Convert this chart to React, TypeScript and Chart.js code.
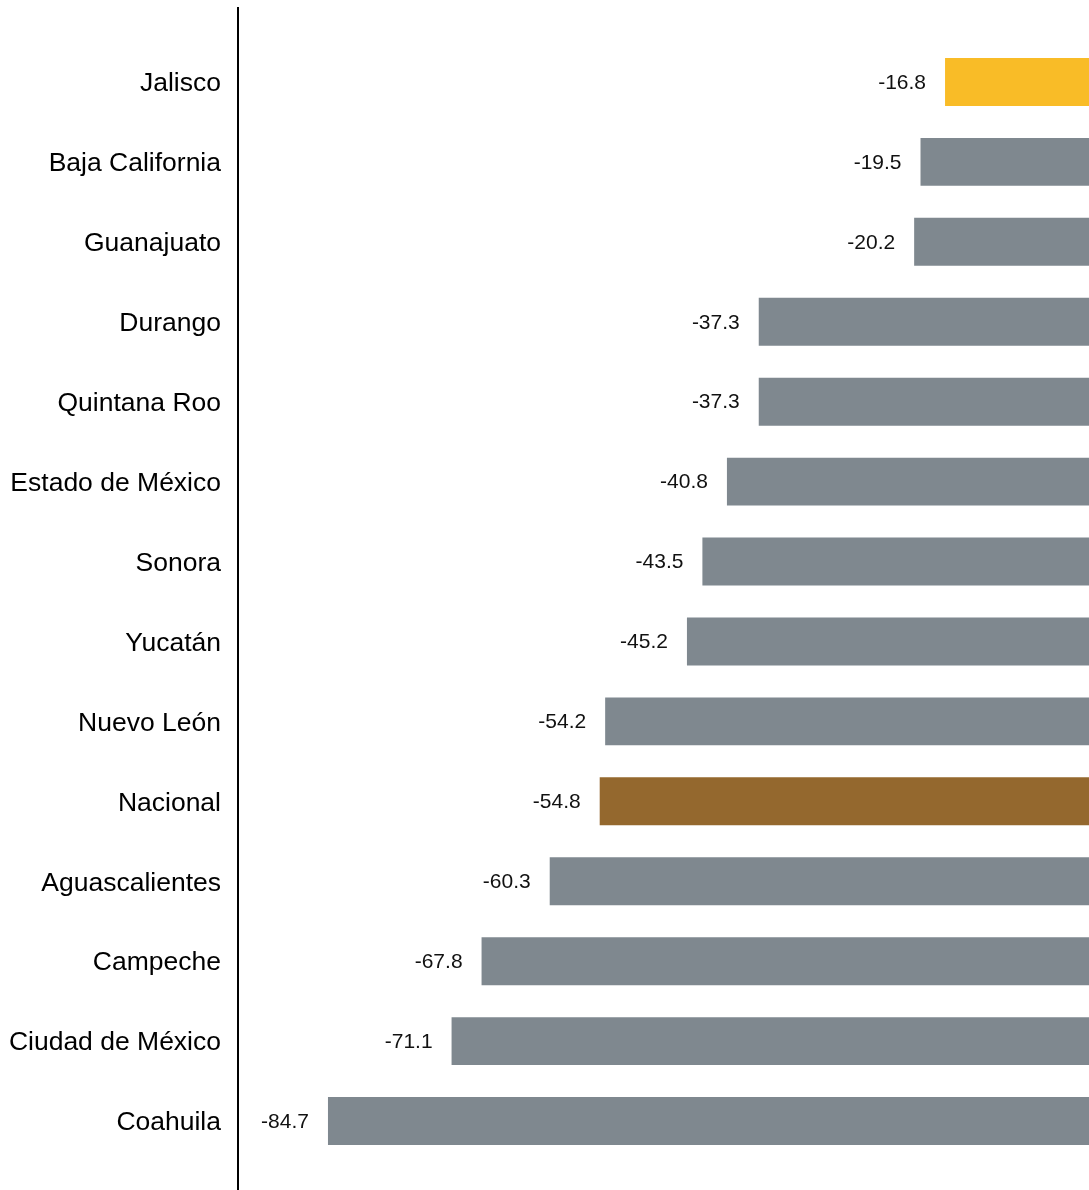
import React, { useEffect, useRef } from "react";
import { Chart, registerables } from "chart.js";

Chart.register(...registerables);

const categories = [
  "Jalisco",
  "Baja California",
  "Guanajuato",
  "Durango",
  "Quintana Roo",
  "Estado de México",
  "Sonora",
  "Yucatán",
  "Nuevo León",
  "Nacional",
  "Aguascalientes",
  "Campeche",
  "Ciudad de México",
  "Coahuila",
];

const values = [-16.8, -19.5, -20.2, -37.3, -37.3, -40.8, -43.5, -45.2, -54.2, -54.8, -60.3, -67.8, -71.1, -84.7];

const GREY = "#7f888f";
const YELLOW = "#f9bc27";
const BROWN = "#94682e";
const barColors = categories.map((c) => (c === "Jalisco" ? YELLOW : c === "Nacional" ? BROWN : GREY));

const X_MIN = -94.6;
const X_MAX = -0.96;

const FONT = "'Liberation Sans', Arial, Helvetica, sans-serif";

const valueLabelPlugin = {
  id: "valueLabels",
  afterDatasetsDraw(chart: any) {
    const ctx = chart.ctx;
    const meta = chart.getDatasetMeta(0);
    ctx.save();
    ctx.font = `21px ${FONT}`;
    ctx.fillStyle = "#111";
    ctx.textAlign = "right";
    ctx.textBaseline = "middle";
    meta.data.forEach((bar: any, i: number) => {
      const left = Math.min(bar.x, bar.base);
      ctx.fillText(values[i].toFixed(1), left - 19, bar.y + 1);
    });
    ctx.restore();
  },
};

const axisLinePlugin = {
  id: "axisLine",
  afterDraw(chart: any) {
    const ctx = chart.ctx;
    const x = chart.chartArea.left;
    ctx.save();
    ctx.strokeStyle = "#000";
    ctx.lineWidth = 2;
    ctx.beginPath();
    ctx.moveTo(x, 7);
    ctx.lineTo(x, chart.height);
    ctx.stroke();
    ctx.restore();
  },
};

export default function App() {
  const ref = useRef<HTMLCanvasElement>(null);

  useEffect(() => {
    document.body.style.margin = "0";
    const chart = new Chart(ref.current as HTMLCanvasElement, {
      type: "bar",
      data: {
        labels: categories,
        datasets: [
          {
            data: values,
            backgroundColor: barColors,
            borderWidth: 0,
            barPercentage: 0.6,
            categoryPercentage: 1,
          },
        ],
      },
      options: {
        indexAxis: "y",
        animation: false,
        responsive: false,
        devicePixelRatio: 1,
        layout: { padding: { top: 42, bottom: 29, left: 0, right: 0 } },
        plugins: { legend: { display: false }, tooltip: { enabled: false } },
        scales: {
          x: {
            display: false,
            min: X_MIN,
            max: X_MAX,
          },
          y: {
            grid: { display: false, drawTicks: false },
            border: { display: false },
            ticks: {
              padding: 17,
              labelOffset: 2,
              color: "#000",
              font: { family: FONT, size: 26.5 },
            },
            afterFit(scale: any) {
              scale.width = 238;
              scale.paddingTop = 0;
              scale.paddingBottom = 0;
            },
          },
        },
      },
      plugins: [valueLabelPlugin, axisLinePlugin],
    });
    return () => chart.destroy();
  }, []);

  return (
    <div style={{ position: "absolute", left: 0, top: 0, width: 1089, height: 1190 }}>
      <canvas ref={ref} width={1089} height={1190} style={{ width: 1089, height: 1190 }} />
    </div>
  );
}
